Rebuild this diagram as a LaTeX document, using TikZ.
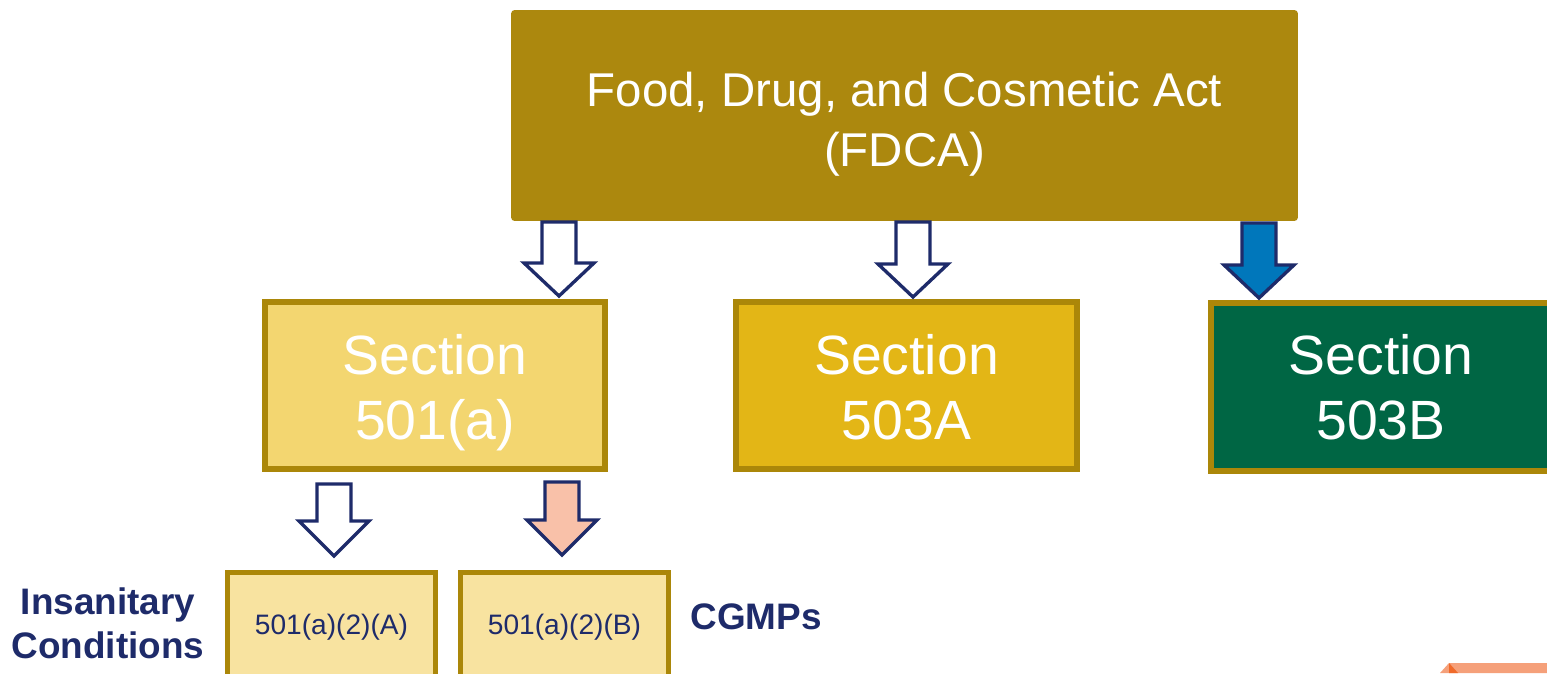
\documentclass[tikz,border=0pt]{standalone}
\usepackage{fontspec}
\setmainfont{Liberation Sans}
\definecolor{gold}{HTML}{AC880E}
\definecolor{goldline}{HTML}{AB8709}
\definecolor{lightgold}{HTML}{F3D670}
\definecolor{midgold}{HTML}{E3B616}
\definecolor{dgreen}{HTML}{006644}
\definecolor{pale}{HTML}{F8E3A0}
\definecolor{navy}{HTML}{1E2B6A}
\definecolor{arrblue}{HTML}{0077BB}
\definecolor{peach}{HTML}{F9C1A9}
\definecolor{orng}{HTML}{F5A07A}
\definecolor{dorng}{HTML}{F06A2A}
\tikzset{
  secbox/.style={draw=goldline, line width=3.4pt, inner sep=0pt},
  sectext/.style={text=white, align=center, font=\fontsize{31.5}{37}\selectfont, inner sep=0pt},
  subbox/.style={draw=goldline, line width=2.8pt, fill=pale, text=navy,
    font=\fontsize{16}{19}\selectfont, inner sep=0pt, minimum width=4.16cm, minimum height=2.19cm},
  blockarrow/.style={draw=navy, line width=1.9pt, line join=miter},
  lbl/.style={text=navy, font=\bfseries\fontsize{21}{25}\selectfont, align=center, inner sep=0pt}
}
\newcommand{\downarr}[5]{% center x, top y, stem bottom y, tip y, fill
  \path[blockarrow, fill=#5] (#1-17,#2) -- (#1+17,#2) -- (#1+17,#3) -- (#1+35,#3)
    -- (#1,#4) -- (#1-35,#3) -- (#1-17,#3) -- cycle;}
\begin{document}
\begin{tikzpicture}[x=0.02cm, y=-0.02cm]
\useasboundingbox (0,0) rectangle (1547,673);
% top box
\node[fill=gold, rounded corners=2pt, minimum width=15.74cm, minimum height=4.22cm, inner sep=0pt] (fdca) at (904.5,115.5) {};
\node[text=white, align=center, font=\fontsize{27}{34}\selectfont, inner sep=0pt] (fdcat) at (904.5,124) {Food, Drug, and Cosmetic Act\\(FDCA)};
% section boxes
\node[secbox, fill=lightgold, minimum width=6.8cm, minimum height=3.34cm] (s501) at (435,385.5) {};
\node[sectext] (s501t) at (435,394) {Section\strut\\501(a)\strut};
\node[secbox, fill=midgold, minimum width=6.82cm, minimum height=3.34cm] (s503a) at (906.5,385.5) {};
\node[sectext] (s503at) at (906.5,394) {Section\strut\\503A\strut};
\node[secbox, fill=dgreen, minimum width=6.8cm, minimum height=3.36cm] (s503b) at (1381,387) {};
\node[sectext] (s503bt) at (1381,394) {Section\strut\\503B\strut};
% arrows from FDCA
\downarr{559}{222}{263}{296}{white}
\downarr{913}{222}{264}{297}{white}
\downarr{1259}{223}{265}{298}{arrblue}
% arrows from 501(a)
\downarr{334}{484}{521}{556}{white}
\downarr{562}{482}{520}{555}{peach}
% sub boxes
\node[subbox] (sa) at (331.5,627.25) {501(a)(2)(A)};
\node[subbox] (sb) at (564.5,627.25) {501(a)(2)(B)};
% labels
\node[lbl] (ins) at (108,623) {Insanitary\\Conditions};
\node[lbl, anchor=west] (cg) at (690,617) {CGMPs};
% orange corner shape
\fill[orng] (1440,673) -- (1449,663) -- (1547,663) -- (1547,673) -- cycle;
\fill[dorng] (1449,663) -- (1458,673) -- (1449,673) -- cycle;
\end{tikzpicture}
\end{document}
